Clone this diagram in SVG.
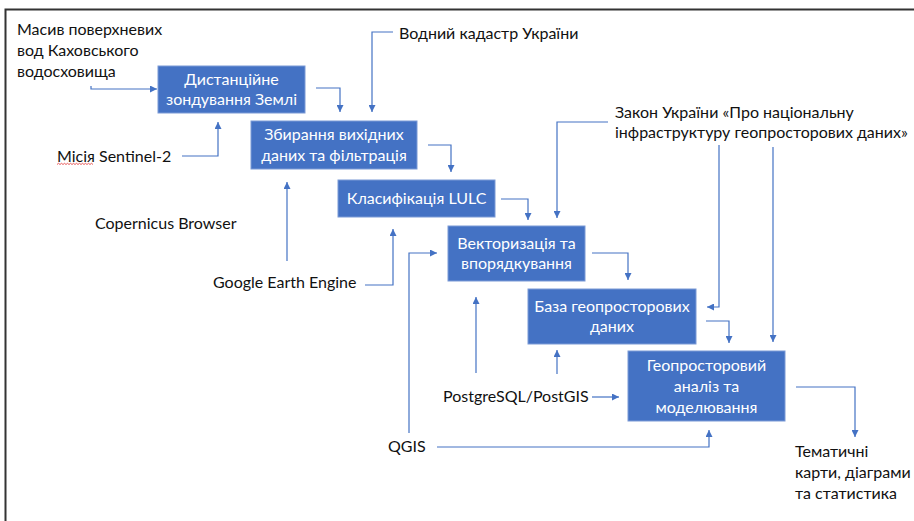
<svg xmlns="http://www.w3.org/2000/svg" width="914" height="521" viewBox="0 0 914 521">
  <defs>
    <style>
      .box { fill: #4472C4; stroke: #7b9ad6; stroke-width: 1; }
      .btxt { fill: #ffffff; font-family: Lato, "Open Sans", "Liberation Sans", sans-serif; font-size: 16px; text-anchor: middle; }
      .txt { fill: #111111; font-family: Lato, "Open Sans", "Liberation Sans", sans-serif; font-size: 16px; }
      .conn { fill: none; stroke: #4472C4; stroke-width: 1.2; marker-end: url(#arr); }
    </style>
    <marker id="arr" viewBox="0 0 8 8" refX="8" refY="4" markerWidth="7" markerHeight="7" markerUnits="userSpaceOnUse" orient="auto">
      <path d="M0,0 L8,4 L0,8 z" fill="#4472C4"/>
    </marker>
  </defs>

  <rect width="914" height="521" fill="#ffffff"/>
  <!-- frame -->
  <path d="M5.5,521 V9.5 H914" fill="none" stroke="#333333" stroke-width="2"/>

  <!-- connectors -->
  <g id="connectors">
    <path class="conn" d="M91,86 V89 H157"/>
    <path class="conn" d="M182,156 H218 V122"/>
    <path class="conn" d="M316,88 H340 V112"/>
    <path class="conn" d="M393,32 H372 V112"/>
    <path class="conn" d="M428,145 H451 V172"/>
    <path class="conn" d="M287,261 V182"/>
    <path class="conn" d="M365,285 H393 V229"/>
    <path class="conn" d="M501,199 H528 V220"/>
    <path class="conn" d="M608,122 H557 V218"/>
    <path class="conn" d="M409,433 V253 H437"/>
    <path class="conn" d="M592,253 H628 V280"/>
    <path class="conn" d="M476,373 V297"/>
    <path class="conn" d="M557,374 V350"/>
    <path class="conn" d="M592,397 H619"/>
    <path class="conn" d="M719,145 V307 H707"/>
    <path class="conn" d="M773,147 V342"/>
    <path class="conn" d="M706,321 H729 V343"/>
    <path class="conn" d="M796,387 H855 V437"/>
    <path class="conn" d="M437,447 H709 V430"/>
  </g>

  <!-- process boxes -->
  <g id="remote-sensing">
    <rect class="box" x="158" y="66" width="147" height="47"/>
    <text class="btxt" x="231.5" y="85">Дистанційне</text>
    <text class="btxt" x="231.5" y="105">зондування Землі</text>
  </g>
  <g id="data-collection">
    <rect class="box" x="251" y="121" width="166" height="48"/>
    <text class="btxt" x="334" y="140">Збирання вихідних</text>
    <text class="btxt" x="334" y="161">даних та фільтрація</text>
  </g>
  <g id="lulc">
    <rect class="box" x="338" y="180" width="157" height="37"/>
    <text class="btxt" x="416.5" y="204">Класифікація LULC</text>
  </g>
  <g id="vectorization">
    <rect class="box" x="448" y="226" width="137" height="55"/>
    <text class="btxt" x="516.5" y="249">Векторизація та</text>
    <text class="btxt" x="516.5" y="269">впорядкування</text>
  </g>
  <g id="geodatabase">
    <rect class="box" x="528" y="289" width="168" height="55"/>
    <text class="btxt" x="612" y="312">База геопросторових</text>
    <text class="btxt" x="612" y="332">даних</text>
  </g>
  <g id="analysis">
    <rect class="box" x="628" y="351" width="157" height="70"/>
    <text class="btxt" x="706.5" y="371">Геопросторовий</text>
    <text class="btxt" x="706.5" y="392">аналіз та</text>
    <text class="btxt" x="706.5" y="413">моделювання</text>
  </g>

  <!-- sources and outputs -->
  <g id="reservoir">
    <text class="txt" x="17" y="35">Масив поверхневих</text>
    <text class="txt" x="17" y="56">вод Каховського</text>
    <text class="txt" x="17" y="77">водосховища</text>
  </g>
  <g id="water-cadastre">
    <text class="txt" x="399" y="39">Водний кадастр України</text>
  </g>
  <g id="sentinel">
    <text class="txt" x="57" y="162">Місія Sentinel-2</text>
    <path d="M57,164.5 l1.5,-1.2 l1.5,1.2 l1.5,-1.2 l1.5,1.2 l1.5,-1.2 l1.5,1.2 l1.5,-1.2 l1.5,1.2 l1.5,-1.2 l1.5,1.2 l1.5,-1.2 l1.5,1.2 l1.5,-1.2 l1.5,1.2 l1.5,-1.2 l1.5,1.2 l1.5,-1.2 l1.5,1.2 l1.5,-1.2 l1.5,1.2 l1.5,-1.2 l1.5,1.2 l1.5,-1.2 l1.5,1.2" fill="none" stroke="#e03030" stroke-width="0.8"/>
  </g>
  <g id="copernicus">
    <text class="txt" x="95" y="229">Copernicus Browser</text>
  </g>
  <g id="gee">
    <text class="txt" x="213" y="288">Google Earth Engine</text>
  </g>
  <g id="law">
    <text class="txt" x="615" y="118">Закон України «Про національну</text>
    <text class="txt" x="615" y="138">інфраструктуру геопросторових даних»</text>
  </g>
  <g id="postgis">
    <text class="txt" x="443" y="402">PostgreSQL/PostGIS</text>
  </g>
  <g id="qgis">
    <text class="txt" x="388" y="452">QGIS</text>
  </g>
  <g id="outputs">
    <text class="txt" x="795" y="457">Тематичні</text>
    <text class="txt" x="795" y="478">карти, діаграми</text>
    <text class="txt" x="795" y="499">та статистика</text>
  </g>
</svg>
